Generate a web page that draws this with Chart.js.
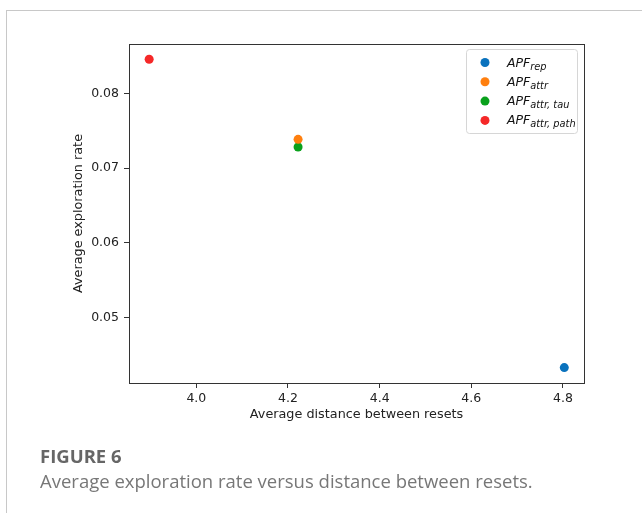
<!DOCTYPE html>
<html>
<head>
<meta charset="utf-8">
<script src="https://cdn.jsdelivr.net/npm/chart.js@4/dist/chart.umd.min.js"></script>
<style>
  html, body { margin: 0; padding: 0; background: #fff; }
  #wrap { position: relative; width: 642px; height: 513px; overflow: hidden; }
  #frame { position: absolute; left: 6px; top: 10px; width: 700px; height: 600px; border: 1px solid #c8c8c8; }
  #chart { position: absolute; left: 0; top: 0; }
  #figno { position: absolute; left: 40px; top: 447px; font: bold 18.5px/18.5px "Open Sans", sans-serif; color: #666; }
  #caption { position: absolute; left: 40px; top: 472px; font: 18.5px/18.5px "Open Sans", sans-serif; color: #777; }
</style>
</head>
<body>
<div id="wrap">
  <div id="frame"></div>
  <canvas id="chart" width="642" height="513"></canvas>
  <div id="figno">FIGURE 6</div>
  <div id="caption">Average exploration rate versus distance between resets.</div>
</div>
<script>
'use strict';

// one point per method
const methodNames = ['APF', 'APF', 'APF', 'APF'];
const methodSubs = ['rep', 'attr', 'attr, tau', 'attr, path'];
const methodColors = ['#0a72bd', '#ff7f0e', '#0aa11c', '#f52828'];
const distance = [4.803, 4.222, 4.222, 3.897];
const exploration = [0.04325, 0.07388, 0.07285, 0.08463];

const xTicks = [4.0, 4.2, 4.4, 4.6, 4.8];
const yTicks = [0.05, 0.06, 0.07, 0.08];

const tickFont = { family: 'DejaVu Sans', size: 12.5 };
const titleFont = { family: 'DejaVu Sans', size: 12.8 };

// draws the box round the axes and the legend with subscripts
const boxAndLegend = {
  id: 'boxAndLegend',
  afterDraw(chart) {
    const ctx = chart.ctx;
    const a = chart.chartArea;
    ctx.save();
    ctx.strokeStyle = '#333';
    ctx.lineWidth = 1;
    ctx.strokeRect(Math.round(a.left) + 0.5, Math.round(a.top) + 0.5,
      Math.round(a.right - a.left), Math.round(a.bottom - a.top));

    // legend
    const lx = 466, ly = 49, lw = 111, lh = 84;
    ctx.fillStyle = 'rgba(255,255,255,0.8)';
    ctx.strokeStyle = '#d6d6d6';
    ctx.beginPath();
    ctx.roundRect(lx + 0.5, ly + 0.5, lw, lh, 3);
    ctx.fill();
    ctx.stroke();
    chart.data.datasets.forEach((ds, i) => {
      const y = 62.5 + i * 19.3;
      ctx.fillStyle = ds.backgroundColor;
      ctx.beginPath();
      ctx.arc(485, y, 4.5, 0, Math.PI * 2);
      ctx.fill();
      ctx.fillStyle = '#111';
      ctx.textBaseline = 'alphabetic';
      ctx.font = 'italic 12.5px "DejaVu Sans"';
      ctx.fillText(methodNames[i], 507, y + 4);
      const w = ctx.measureText(methodNames[i]).width;
      ctx.font = 'italic 9.8px "DejaVu Sans"';
      ctx.fillText(methodSubs[i], 507 + w, y + 7);
    });
    ctx.restore();
  }
};

const datasets = distance.map((d, i) => ({
  label: methodNames[i] + '_' + methodSubs[i],
  data: [{ x: d, y: exploration[i] }],
  backgroundColor: methodColors[i],
  borderColor: methodColors[i],
  pointRadius: 4.5,
  pointHoverRadius: 4.5,
  borderWidth: 0
}));

new Chart(document.getElementById('chart'), {
  type: 'scatter',
  data: { datasets: datasets },
  plugins: [boxAndLegend],
  options: {
    responsive: false,
    animation: false,
    layout: { padding: { left: 0, top: 44, right: 58, bottom: 0 } },
    plugins: { legend: { display: false }, tooltip: { enabled: false } },
    scales: {
      x: {
        type: 'linear',
        min: 3.853,
        max: 4.846,
        afterBuildTicks: s => { s.ticks = xTicks.map(v => ({ value: v })); },
        afterFit: s => { s.height = 130; },
        grid: { drawOnChartArea: false, drawTicks: true, tickLength: 5, color: '#333' },
        border: { color: '#333', width: 1 },
        ticks: { font: tickFont, color: '#222', padding: 3, callback: v => v.toFixed(1) },
        title: { display: true, text: 'Average distance between resets', font: titleFont, color: '#222', padding: { top: 0, bottom: 91 } }
      },
      y: {
        type: 'linear',
        min: 0.04118,
        max: 0.08667,
        afterBuildTicks: s => { s.ticks = yTicks.map(v => ({ value: v })); },
        afterFit: s => { s.width = 129; },
        grid: { drawOnChartArea: false, drawTicks: true, tickLength: 5, color: '#333' },
        border: { color: '#333', width: 1 },
        ticks: { font: tickFont, color: '#222', padding: 5, callback: v => v.toFixed(2) },
        title: { display: true, text: 'Average exploration rate', font: titleFont, color: '#222', padding: { top: 71, bottom: 0 } }
      }
    }
  }
});
</script>
</body>
</html>
